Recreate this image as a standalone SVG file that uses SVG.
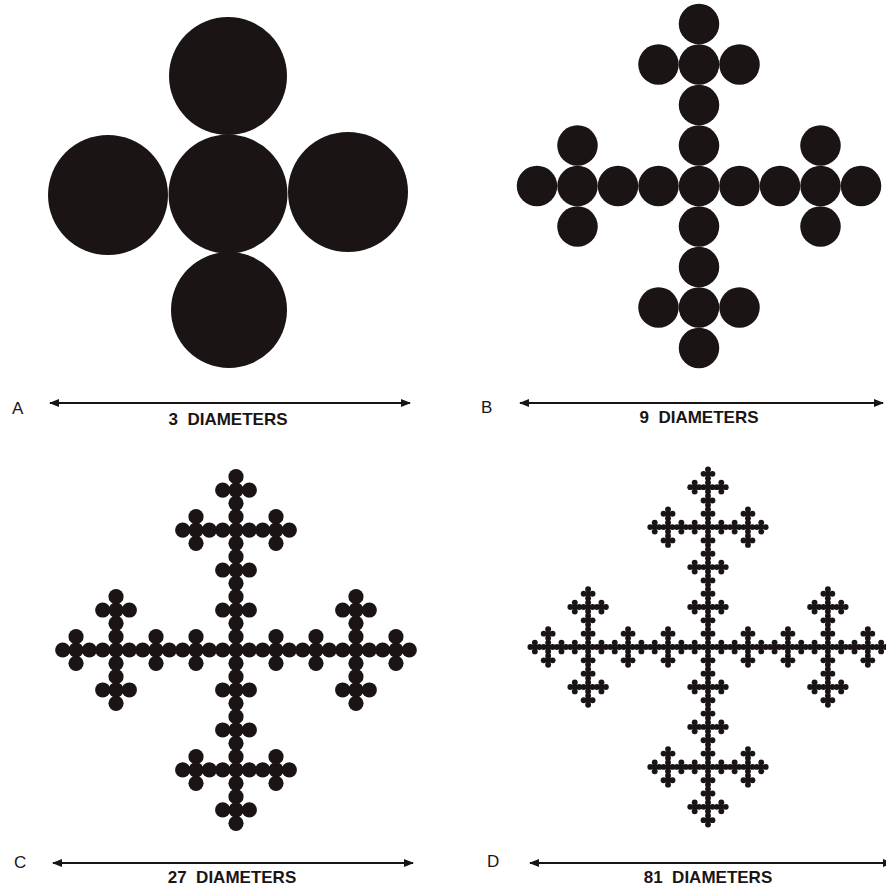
<svg xmlns="http://www.w3.org/2000/svg" width="886" height="891" viewBox="0 0 886 891">
<style>
.ink{fill:#1a1414}
.arrow{stroke:#1a1414;stroke-width:2;fill:none;marker-start:url(#ah);marker-end:url(#ah)}
.cap{font-family:"Liberation Sans",Arial,sans-serif;font-weight:bold;font-size:17px;fill:#1a1414;text-anchor:middle;white-space:pre}
.tag{font-family:"Liberation Sans",Arial,sans-serif;font-size:17px;fill:#1a1414}
</style>
<defs>
<marker id="ah" viewBox="0 0 10 8" refX="9" refY="4" markerWidth="5" markerHeight="4" orient="auto-start-reverse" markerUnits="strokeWidth">
<path d="M0,0 L10,4 L0,8 Z" fill="#1a1414"/>
</marker>
<g id="p1" class="ink">
<circle cx="0" cy="0" r="0.5"/><circle cx="-1" cy="0" r="0.5"/><circle cx="1" cy="0" r="0.5"/><circle cx="0" cy="-1" r="0.5"/><circle cx="0" cy="1" r="0.5"/>
</g>
<g id="p2">
<use href="#p1"/><use href="#p1" x="-3"/><use href="#p1" x="3"/><use href="#p1" y="-3"/><use href="#p1" y="3"/>
</g>
<g id="q1" class="ink">
<circle cx="0" cy="0" r="0.57"/><circle cx="-1" cy="0" r="0.57"/><circle cx="1" cy="0" r="0.57"/><circle cx="0" cy="-1" r="0.57"/><circle cx="0" cy="1" r="0.57"/>
</g>
<g id="q2">
<use href="#q1"/><use href="#q1" x="-3"/><use href="#q1" x="3"/><use href="#q1" y="-3"/><use href="#q1" y="3"/>
</g>
<g id="q3">
<use href="#q2"/><use href="#q2" x="-9"/><use href="#q2" x="9"/><use href="#q2" y="-9"/><use href="#q2" y="9"/>
</g>
<g id="r1" class="ink">
<circle cx="0" cy="0" r="0.66"/><circle cx="-1" cy="0" r="0.66"/><circle cx="1" cy="0" r="0.66"/><circle cx="0" cy="-1" r="0.66"/><circle cx="0" cy="1" r="0.66"/>
</g>
<g id="r2">
<use href="#r1"/><use href="#r1" x="-3"/><use href="#r1" x="3"/><use href="#r1" y="-3"/><use href="#r1" y="3"/>
</g>
<g id="r3">
<use href="#r2"/><use href="#r2" x="-9"/><use href="#r2" x="9"/><use href="#r2" y="-9"/><use href="#r2" y="9"/>
</g>
<g id="r4">
<use href="#r3"/><use href="#r3" x="-27"/><use href="#r3" x="27"/><use href="#r3" y="-27"/><use href="#r3" y="27"/>
</g>
</defs>
<rect width="886" height="891" fill="#fff"/>

<g id="panelA">
<g class="ink">
<circle cx="108" cy="195" r="60"/>
<circle cx="228" cy="194" r="59.5"/>
<circle cx="348" cy="192" r="60"/>
<circle cx="228" cy="76" r="59"/>
<circle cx="229" cy="310" r="58"/>
</g>
</g>

<g id="panelB">
<use href="#p2" transform="translate(699,186) scale(40.5)"/>
</g>

<g id="panelC">
<use href="#q3" transform="translate(236,650) scale(13.33)"/>
</g>

<g id="panelD">
<use href="#r4" transform="translate(708,647) scale(4.44)"/>
</g>

<g id="connectors">
<line class="arrow" x1="50" y1="403" x2="410" y2="403"/>
<line class="arrow" x1="520" y1="403" x2="883" y2="403"/>
<line class="arrow" x1="53" y1="863" x2="413" y2="863"/>
<line class="arrow" x1="530" y1="863" x2="892" y2="863"/>
</g>

<g id="labels">
<text class="tag" x="12" y="414">A</text>
<text class="cap" x="228" y="425">3  DIAMETERS</text>
<text class="tag" x="481" y="413">B</text>
<text class="cap" x="699" y="423">9  DIAMETERS</text>
<text class="tag" x="14" y="868">C</text>
<text class="cap" x="232" y="883">27  DIAMETERS</text>
<text class="tag" x="487" y="867">D</text>
<text class="cap" x="708" y="883">81  DIAMETERS</text>
</g>
</svg>
